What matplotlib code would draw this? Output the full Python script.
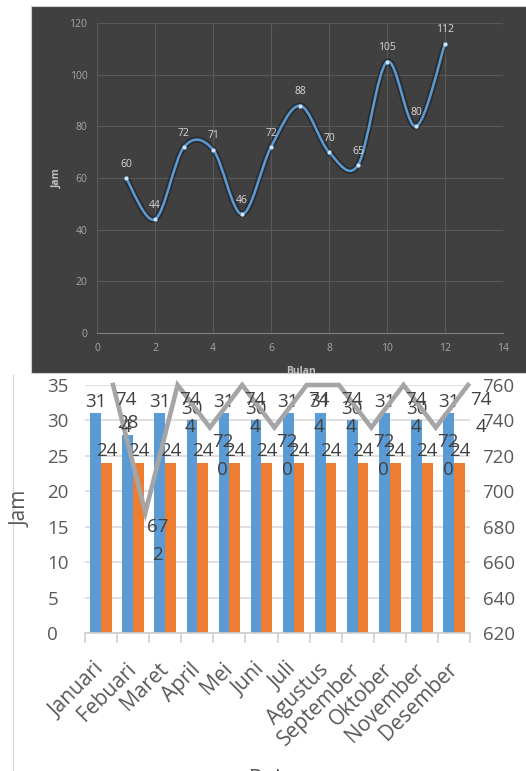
import numpy as np
import matplotlib.pyplot as plt
from matplotlib.patches import Rectangle, PathPatch
from matplotlib.path import Path
from matplotlib.lines import Line2D
from matplotlib import transforms

plt.rcParams['font.family'] = ['Open Sans', 'DejaVu Sans']

# top chart: jam per bulan
bulan_no = [1, 2, 3, 4, 5, 6, 7, 8, 9, 10, 11, 12]
jam_top = [60, 44, 72, 71, 46, 72, 88, 70, 65, 105, 80, 112]

# bottom chart
bulan = ['Januari', 'Febuari', 'Maret', 'April', 'Mei', 'Juni', 'Juli',
         'Agustus', 'September', 'Oktober', 'November', 'Desember']
hari = [31, 28, 31, 30, 31, 30, 31, 31, 30, 31, 30, 31]
jam_hari = [24, 24, 24, 24, 24, 24, 24, 24, 24, 24, 24, 24]
total_jam = [744, 672, 744, 720, 744, 720, 744, 744, 720, 744, 720, 744]

W, H = 526, 771
fig = plt.figure(figsize=(W / 100, H / 100), dpi=100)


def fx(px):
    return px / W


def fy(py):
    return 1 - py / H


# ---- top (dark) chart ----
fig.patches.append(Rectangle((fx(31), fy(373)), 1.0, fy(6) - fy(373),
                             transform=fig.transFigure, facecolor='#404040',
                             edgecolor='#d0d0d0', lw=0.8, zorder=-1))

ax1 = fig.add_axes([fx(97), fy(333), fx(503) - fx(97), fy(23) - fy(333)])
ax1.set_facecolor('none')
ax1.set_xlim(0, 14)
ax1.set_ylim(0, 120)
ax1.set_xticks(range(0, 15, 2))
ax1.set_yticks(range(0, 121, 20))
ax1.grid(color='#595959', lw=0.8)
ax1.set_axisbelow(True)
for s in ['left', 'right', 'top']:
    ax1.spines[s].set_visible(False)
ax1.spines['bottom'].set_color('#7f7f7f')
ax1.tick_params(length=0, labelsize=7.5, colors='#a6a6a6', pad=7)

# smoothed line (bezier through the points)
x = np.array(bulan_no, float)
y = np.array(jam_top, float)
px = np.r_[x[0], x, x[-1]]
py = np.r_[y[0], y, y[-1]]
verts = [(x[0], y[0])]
codes = [Path.MOVETO]
for i in range(len(x) - 1):
    c1 = (px[i + 1] + (px[i + 2] - px[i]) / 6, py[i + 1] + (py[i + 2] - py[i]) / 6)
    c2 = (px[i + 2] - (px[i + 3] - px[i + 1]) / 6, py[i + 2] - (py[i + 3] - py[i + 1]) / 6)
    verts += [c1, c2, (px[i + 2], py[i + 2])]
    codes += [Path.CURVE4] * 3
curve = Path(verts, codes)
ax1.add_patch(PathPatch(curve, fill=False, lw=4.5, edgecolor='black', alpha=0.3))
ax1.add_patch(PathPatch(curve, fill=False, lw=1.8, edgecolor='#5b9bd5'))
ax1.plot(x, y, 'o', ms=3, mfc='#dce6f2', mec='#5b9bd5', mew=0.4)
for xi, yi in zip(bulan_no, jam_top):
    ax1.annotate(str(yi), (xi, yi), xytext=(0, 6), textcoords='offset points',
                 ha='center', va='bottom', fontsize=7.5, color='#d9d9d9')

fig.text(fx(57), fy(178), 'Jam', rotation=90, ha='center', va='center',
         fontsize=7.5, fontweight='bold', color='#bfbfbf')
t = fig.text(fx(301), fy(371), 'Bulan', ha='center', va='center',
             fontsize=7.5, fontweight='bold', color='#bfbfbf')
t.set_clip_box(transforms.TransformedBbox(
    transforms.Bbox.from_extents(0, fy(373), 1, 1), fig.transFigure))

# ---- bottom chart ----
fig.add_artist(Line2D([fx(13), fx(13)], [fy(375), 0], transform=fig.transFigure,
                      color='#d9d9d9', lw=1))

ax_b = fig.add_axes([fx(85), fy(633), fx(470) - fx(85), fy(385) - fy(633)])
xs = np.arange(len(bulan))
b1 = ax_b.bar(xs - 0.167, hari, width=0.335, color='#5b9bd5')
b2 = ax_b.bar(xs + 0.167, jam_hari, width=0.335, color='#ed7d31')
ax_b.set_xlim(-0.5, 11.5)
ax_b.set_ylim(0, 35)
ax_b.set_yticks(range(0, 36, 5))
ax_b.yaxis.grid(True, color='#d9d9d9', lw=1.2)
ax_b.set_axisbelow(True)
for s in ['left', 'right', 'top']:
    ax_b.spines[s].set_visible(False)
ax_b.spines['bottom'].set_color('#d0d0d0')
ax_b.spines['bottom'].set_linewidth(1.2)
ax_b.set_xticks(xs, bulan, rotation=45, ha='right', va='center',
                rotation_mode='anchor')
ax_b.set_xticks(np.arange(-0.5, 12, 1), minor=True)
ax_b.tick_params(axis='x', which='major', length=0, pad=24, labelsize=15,
                 colors='#595959')
ax_b.tick_params(axis='x', which='minor', length=7, color='#d0d0d0', width=1.2)
ax_b.tick_params(axis='y', length=0, pad=27, labelsize=13.5, colors='#595959')
for lbl in ax_b.get_yticklabels():
    lbl.set_ha('left')
ax_b.bar_label(b1, padding=2, fontsize=13.5, color='#404040')
ax_b.bar_label(b2, padding=2, fontsize=13.5, color='#404040')

ax_r = ax_b.twinx()
ax_r.set_ylim(620, 760)
ax_r.set_yticks(range(620, 761, 20))
for s in ax_r.spines.values():
    s.set_visible(False)
ax_r.tick_params(length=0, pad=9, labelsize=13.5, colors='#595959')

ax_l = fig.add_axes(ax_b.get_position(), frameon=False)
ax_l.set_xlim(-0.87, 11.06)
ax_l.set_ylim(604, 744)
ax_l.axis('off')
ax_l.plot(xs, total_jam, color='#a5a5a5', lw=3.3, clip_on=False,
          solid_joinstyle='miter')
for xi, v in zip(xs, total_jam):
    s = str(v)
    ax_l.annotate(s[:2] + '\n' + s[2:], (xi, v), xytext=(9, -4),
                  textcoords='offset points', ha='center', va='top',
                  fontsize=13.5, linespacing=1.7, color='#404040',
                  annotation_clip=False)

fig.text(fx(21), fy(509), 'Jam', rotation=90, ha='center', va='center',
         fontsize=15, color='#595959')
fig.text(fx(277), fy(769), 'Bulan', ha='center', va='top', fontsize=15,
         color='#595959')

fig.savefig('out.png', dpi=100)
